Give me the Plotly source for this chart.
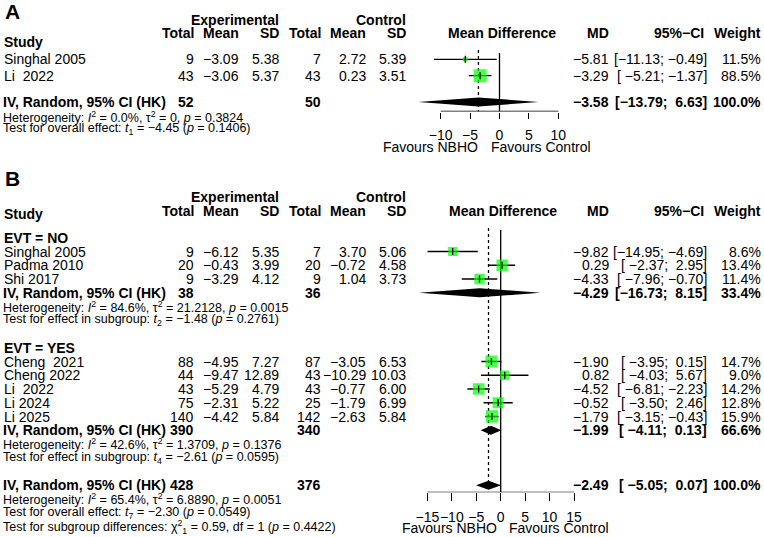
import math
import plotly.graph_objects as go

W, H = 764, 537
FONT = "Liberation Sans, Arial, sans-serif"
MINUS = "\u2212"

# ---------------- DATA: panel A ----------------
A_study = ["Singhal 2005", "Li  2022"]
A_exp_n = [9, 43]
A_exp_mean = [-3.09, -3.06]
A_exp_sd = [5.38, 5.37]
A_ctl_n = [7, 43]
A_ctl_mean = [2.72, 0.23]
A_ctl_sd = [5.39, 3.51]
A_md = [-5.81, -3.29]
A_lo = [-11.13, -5.21]
A_hi = [-0.49, -1.37]
A_w = [11.5, 88.5]
A_pool_n = [52, 50]
A_pool_md = -3.58
A_pool_lo = -13.79
A_pool_hi = 6.63
A_pool_w = 100.0
A_het = "Heterogeneity: <i>I</i><sup>2</sup> = 0.0%, \u03c4<sup>2</sup> = 0, <i>p</i> = 0.3824"
A_test = "Test for overall effect: <i>t</i><sub>1</sub> = \u22124.45 (<i>p</i> = 0.1406)"
A_ticks = [-10, -5, 0, 5, 10]

# ---------------- DATA: panel B ----------------
B_no_study = ["Singhal 2005", "Padma 2010", "Shi 2017"]
B_no_exp_n = [9, 20, 9]
B_no_exp_mean = [-6.12, -0.43, -3.29]
B_no_exp_sd = [5.35, 3.99, 4.12]
B_no_ctl_n = [7, 20, 9]
B_no_ctl_mean = [3.70, -0.72, 1.04]
B_no_ctl_sd = [5.06, 4.58, 3.73]
B_no_md = [-9.82, 0.29, -4.33]
B_no_lo = [-14.95, -2.37, -7.96]
B_no_hi = [-4.69, 2.95, -0.70]
B_no_w = [8.6, 13.4, 11.4]
B_no_pool_n = [38, 36]
B_no_pool = [-4.29, -16.73, 8.15, 33.4]
B_no_het = "Heterogeneity: <i>I</i><sup>2</sup> = 84.6%, \u03c4<sup>2</sup> = 21.2128, <i>p</i> = 0.0015"
B_no_test = "Test for effect in subgroup: <i>t</i><sub>2</sub> = \u22121.48 (<i>p</i> = 0.2761)"

B_yes_study = ["Cheng  2021", "Cheng 2022", "Li  2022", "Li 2024", "Li 2025"]
B_yes_exp_n = [88, 44, 43, 75, 140]
B_yes_exp_mean = [-4.95, -9.47, -5.29, -2.31, -4.42]
B_yes_exp_sd = [7.27, 12.89, 4.79, 5.22, 5.84]
B_yes_ctl_n = [87, 43, 43, 25, 142]
B_yes_ctl_mean = [-3.05, -10.29, -0.77, -1.79, -2.63]
B_yes_ctl_sd = [6.53, 10.03, 6.00, 6.99, 5.84]
B_yes_md = [-1.90, 0.82, -4.52, -0.52, -1.79]
B_yes_lo = [-3.95, -4.03, -6.81, -3.50, -3.15]
B_yes_hi = [0.15, 5.67, -2.23, 2.46, -0.43]
B_yes_w = [14.7, 9.0, 14.2, 12.8, 15.9]
B_yes_pool_n = [390, 340]
B_yes_pool = [-1.99, -4.11, 0.13, 66.6]
B_yes_het = "Heterogeneity: <i>I</i><sup>2</sup> = 42.6%, \u03c4<sup>2</sup> = 1.3709, <i>p</i> = 0.1376"
B_yes_test = "Test for effect in subgroup: <i>t</i><sub>4</sub> = \u22122.61 (<i>p</i> = 0.0595)"

B_all_pool_n = [428, 376]
B_all_pool = [-2.49, -5.05, 0.07, 100.0]
B_all_het = "Heterogeneity: <i>I</i><sup>2</sup> = 65.4%, \u03c4<sup>2</sup> = 6.8890, <i>p</i> = 0.0051"
B_all_test = "Test for overall effect: <i>t</i><sub>7</sub> = \u22122.30 (<i>p</i> = 0.0549)"
B_sub_test = ("Test for subgroup differences: \u03c7<sup>2</sup><sub>1</sub> = 0.59, df = 1 "
              "(<i>p</i> = 0.4422)")
B_ticks = [-15, -10, -5, 0, 5, 10, 15]

LABEL_LEFT = "Favours NBHO"
LABEL_RIGHT = "Favours Control"

# ---------------- LAYOUT CONSTANTS (pixels) ----------------
COL = dict(study=3, exp_n=195, exp_mean=240, exp_sd=280, ctl_n=322,
           ctl_mean=367, ctl_sd=407, md=610, ci=708, w=762)
FS = 14
FS_HET = 12.5
GREEN = "#00FF00"

A_rows = dict(label=11.7, exp_hdr=20, col_hdr=33.3, study_hdr=41.7,
              studies=[59.3, 75.7], pool=102, het=116.7, test=128.5)
A_ax = dict(zero=499.5, ppu=5.885, rng=(-15, 12), top=45, bottom=111.5,
            line_top=53, dot_top=50, ticklen=6, standoff=5, fav=146.7,
            fav_l=479.3, fav_r=490, hdr_c=502)

STEP = 13.75
r0 = 251.5
B_rows = dict(label=179, exp_hdr=197, col_hdr=210.5, study_hdr=214,
              no_hdr=r0 - STEP,
              no=[r0 + i * STEP for i in range(3)],
              no_pool=r0 + 3 * STEP, no_het=r0 + 4 * STEP, no_test=r0 + 5 * STEP,
              yes_hdr=r0 + 7 * STEP,
              yes=[r0 + (8 + i) * STEP for i in range(5)],
              yes_pool=r0 + 13 * STEP, yes_het=r0 + 14 * STEP, yes_test=r0 + 15 * STEP,
              all_pool=r0 + 17 * STEP, all_het=r0 + 18 * STEP, all_test=r0 + 19 * STEP,
              sub_test=r0 + 20 * STEP)
B_ax = dict(zero=500.7, ppu=4.89, rng=(-18, 17), top=225, bottom=492.3,
            line_top=230, dot_top=228, ticklen=8, standoff=4, fav=528,
            fav_l=498.3, fav_r=508, hdr_c=503)


def fmt(v, nd=2):
    return f"{v:.{nd}f}".replace("-", MINUS)


def fmt_ci(lo, hi):
    a = fmt(lo).rjust(6)
    b = fmt(hi).rjust(5)
    return f"[{a}; {b}]"


annotations = []


def txt(x, y, s, anchor="right", size=FS, bold=False):
    annotations.append(dict(
        x=x / W, y=1 - y / H, xref="paper", yref="paper",
        text=(f"<b>{s}</b>" if bold else s).replace("  ", "\u00a0 "),
        showarrow=False, xanchor=anchor, yanchor="middle", borderpad=0,
        font=dict(family=FONT, size=size, color="black")))


def study_row(y, name, en, em, esd, cn, cm, csd, md, lo, hi, w):
    txt(COL["study"], y, name, "left")
    txt(COL["exp_n"], y, str(en))
    txt(COL["exp_mean"], y, fmt(em))
    txt(COL["exp_sd"], y, fmt(esd))
    txt(COL["ctl_n"], y, str(cn))
    txt(COL["ctl_mean"], y, fmt(cm))
    txt(COL["ctl_sd"], y, fmt(csd))
    txt(COL["md"], y, fmt(md))
    txt(COL["ci"], y, fmt_ci(lo, hi))
    txt(COL["w"], y, fmt(w, 1) + "%")


def pool_row(y, ns, est):
    txt(COL["study"] - 1, y, "IV, Random, 95% CI (HK)", "left", bold=True)
    txt(COL["exp_n"], y, str(ns[0]), bold=True)
    txt(COL["ctl_n"], y, str(ns[1]), bold=True)
    txt(COL["md"], y, fmt(est[0]), bold=True)
    txt(COL["ci"], y, fmt_ci(est[1], est[2]), bold=True)
    txt(COL["w"], y, fmt(est[3], 1) + "%", bold=True)


def headers(rows, ax, label):
    txt(4, rows["label"], label, "left", size=21, bold=True)
    txt(COL["exp_sd"], rows["exp_hdr"], "Experimental", bold=True)
    txt(COL["ctl_sd"], rows["exp_hdr"], "Control", bold=True)
    txt(COL["study"], rows["study_hdr"], "Study", "left", bold=True)
    for k, s in [("exp_n", "Total"), ("exp_mean", "Mean"), ("exp_sd", "SD"),
                 ("ctl_n", "Total"), ("ctl_mean", "Mean"), ("ctl_sd", "SD")]:
        txt(COL[k], rows["col_hdr"], s, bold=True)
    txt(ax["hdr_c"], rows["col_hdr"], "Mean Difference", "center", bold=True)
    txt(COL["md"], rows["col_hdr"], "MD", bold=True)
    txt(COL["ci"] - 3, rows["col_hdr"], "95%\u2212CI", bold=True)
    txt(COL["w"], rows["col_hdr"], "Weight", bold=True)
    txt(ax["fav_l"], ax["fav"], LABEL_LEFT, "right")
    txt(ax["fav_r"], ax["fav"], LABEL_RIGHT, "left")


fig = go.Figure()
shapes = []


def add_forest(xa, ya, ys, md, lo, hi, w, size_max, w_max):
    xs, yy = [], []
    for y, l, h in zip(ys, lo, hi):
        xs += [l, h, None]
        yy += [y, y, None]
    fig.add_trace(go.Scatter(x=xs, y=yy, mode="lines", xaxis=xa, yaxis=ya,
                             line=dict(color="black", width=1.3), hoverinfo="skip"))
    sizes = [size_max * math.sqrt(v / w_max) for v in w]
    fig.add_trace(go.Scatter(x=md, y=ys, mode="markers", xaxis=xa, yaxis=ya,
                             marker=dict(symbol="square", size=sizes, color=GREEN,
                                         line=dict(width=0)),
                             hoverinfo="skip"))
    fig.add_trace(go.Scatter(x=md, y=ys, mode="markers", xaxis=xa, yaxis=ya,
                             marker=dict(symbol="line-ns", size=5,
                                         line=dict(width=1.3, color="black")),
                             hoverinfo="skip"))


def add_diamonds(xa, ya, items, half=4.5):
    xs, yy = [], []
    for y, est, lo, hi in items:
        xs += [lo, est, hi, est, lo, None]
        yy += [y, y - half, y, y + half, y, None]
    fig.add_trace(go.Scatter(x=xs, y=yy, mode="lines", fill="toself",
                             fillcolor="black", xaxis=xa, yaxis=ya,
                             line=dict(width=0, color="black"), hoverinfo="skip"))


def axis_setup(name_x, name_y, ax, ticks, anchor):
    x0 = ax["zero"] + ax["rng"][0] * ax["ppu"]
    x1 = ax["zero"] + ax["rng"][1] * ax["ppu"]
    fig.layout[name_x] = dict(
        domain=[x0 / W, x1 / W], range=list(ax["rng"]), anchor=anchor,
        tickmode="array", tickvals=ticks, ticks="outside", ticklen=ax["ticklen"],
        tickwidth=1.3, tickcolor="black", showline=False, showgrid=False,
        zeroline=False, ticklabelstandoff=ax["standoff"], tickangle=0,
        tickfont=dict(family=FONT, size=FS, color="black"))
    fig.layout[name_y] = dict(
        domain=[1 - ax["bottom"] / H, 1 - ax["top"] / H],
        range=[ax["bottom"], ax["top"]], visible=False, showgrid=False,
        zeroline=False)


def ref_lines(xr, yr, ax, ticks, pooled):
    shapes.append(dict(type="line", xref=xr, yref=yr, x0=ticks[0], x1=ticks[-1],
                       y0=ax["bottom"], y1=ax["bottom"], layer="below",
                       line=dict(color="black", width=1.3)))
    shapes.append(dict(type="line", xref=xr, yref=yr, x0=0, x1=0,
                       y0=ax["line_top"], y1=ax["bottom"], layer="below",
                       line=dict(color="black", width=1.3)))
    shapes.append(dict(type="line", xref=xr, yref=yr, x0=pooled, x1=pooled,
                       y0=ax["dot_top"], y1=ax["bottom"], layer="below",
                       line=dict(color="black", width=1.3, dash="dot")))


# ---------------- Panel A ----------------
headers(A_rows, A_ax, "A")
for i, y in enumerate(A_rows["studies"]):
    study_row(y, A_study[i], A_exp_n[i], A_exp_mean[i], A_exp_sd[i], A_ctl_n[i],
              A_ctl_mean[i], A_ctl_sd[i], A_md[i], A_lo[i], A_hi[i], A_w[i])
pool_row(A_rows["pool"], A_pool_n, [A_pool_md, A_pool_lo, A_pool_hi, A_pool_w])
txt(2, A_rows["het"], A_het, "left", size=FS_HET)
txt(2, A_rows["test"], A_test, "left", size=FS_HET)

axis_setup("xaxis", "yaxis", A_ax, A_ticks, "y")
ref_lines("x", "y", A_ax, A_ticks, A_pool_md)
add_forest("x", "y", A_rows["studies"], A_md, A_lo, A_hi, A_w, 13.0, max(A_w))
add_diamonds("x", "y", [(A_rows["pool"], A_pool_md, A_pool_lo, A_pool_hi)])

# ---------------- Panel B ----------------
headers(B_rows, B_ax, "B")
txt(COL["study"], B_rows["no_hdr"], "EVT = NO", "left", bold=True)
for i, y in enumerate(B_rows["no"]):
    study_row(y, B_no_study[i], B_no_exp_n[i], B_no_exp_mean[i], B_no_exp_sd[i],
              B_no_ctl_n[i], B_no_ctl_mean[i], B_no_ctl_sd[i], B_no_md[i],
              B_no_lo[i], B_no_hi[i], B_no_w[i])
pool_row(B_rows["no_pool"], B_no_pool_n, B_no_pool)
txt(2, B_rows["no_het"], B_no_het, "left", size=FS_HET)
txt(2, B_rows["no_test"], B_no_test, "left", size=FS_HET)

txt(COL["study"], B_rows["yes_hdr"], "EVT = YES", "left", bold=True)
for i, y in enumerate(B_rows["yes"]):
    study_row(y, B_yes_study[i], B_yes_exp_n[i], B_yes_exp_mean[i], B_yes_exp_sd[i],
              B_yes_ctl_n[i], B_yes_ctl_mean[i], B_yes_ctl_sd[i], B_yes_md[i],
              B_yes_lo[i], B_yes_hi[i], B_yes_w[i])
pool_row(B_rows["yes_pool"], B_yes_pool_n, B_yes_pool)
txt(2, B_rows["yes_het"], B_yes_het, "left", size=FS_HET)
txt(2, B_rows["yes_test"], B_yes_test, "left", size=FS_HET)

pool_row(B_rows["all_pool"], B_all_pool_n, B_all_pool)
txt(2, B_rows["all_het"], B_all_het, "left", size=FS_HET)
txt(2, B_rows["all_test"], B_all_test, "left", size=FS_HET)
txt(2, B_rows["sub_test"], B_sub_test, "left", size=FS_HET)

axis_setup("xaxis2", "yaxis2", B_ax, B_ticks, "y2")
ref_lines("x2", "y2", B_ax, B_ticks, B_all_pool[0])
all_w = B_no_w + B_yes_w
add_forest("x2", "y2", B_rows["no"], B_no_md, B_no_lo, B_no_hi, B_no_w, 12.3, max(all_w))
add_forest("x2", "y2", B_rows["yes"], B_yes_md, B_yes_lo, B_yes_hi, B_yes_w, 12.3, max(all_w))
add_diamonds("x2", "y2", [
    (B_rows["no_pool"], B_no_pool[0], B_no_pool[1], B_no_pool[2]),
    (B_rows["yes_pool"], B_yes_pool[0], B_yes_pool[1], B_yes_pool[2]),
    (B_rows["all_pool"], B_all_pool[0], B_all_pool[1], B_all_pool[2]),
])

fig.update_layout(
    width=W, height=H, margin=dict(l=0, r=0, t=0, b=0),
    paper_bgcolor="white", plot_bgcolor="rgba(0,0,0,0)", showlegend=False,
    annotations=annotations, shapes=shapes,
    font=dict(family=FONT, size=FS, color="black"),
)

fig.write_html("out.html")
